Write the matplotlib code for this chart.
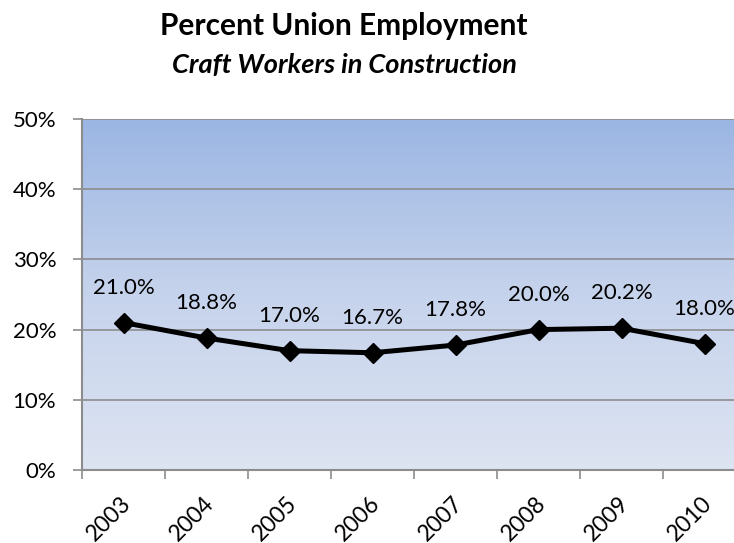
import numpy as np
import matplotlib
matplotlib.use("Agg")
import matplotlib.pyplot as plt
from matplotlib.colors import LinearSegmentedColormap
from matplotlib.transforms import ScaledTranslation

years = ["2003", "2004", "2005", "2006", "2007", "2008", "2009", "2010"]
values = [21.0, 18.8, 17.0, 16.7, 17.8, 20.0, 20.2, 18.0]
yticks = [0, 10, 20, 30, 40, 50]
title = "Percent Union Employment"
subtitle = "Craft Workers in Construction"

plt.rcParams['font.family'] = ['Lato', 'DejaVu Sans']

W, H = 734, 543
dpi = 100
fig = plt.figure(figsize=(W / dpi, H / dpi), dpi=dpi)

left, right, top, bottom = 82, 746, 119, 470
ax = fig.add_axes([left / W, 1 - bottom / H, (right - left) / W, (bottom - top) / H])

# gradient background
cmap = LinearSegmentedColormap.from_list("bg", ["#dde4f2", "#c6d3ec", "#9bb6e3"])
grad = np.linspace(0, 1, 256).reshape(-1, 1)
ax.imshow(grad, extent=[0, 1, 0, 1], transform=ax.transAxes, cmap=cmap,
          origin="lower", aspect="auto", zorder=0)

x = np.arange(len(years))
ax.plot(x, values, color="black", lw=3.6, marker="D", ms=10, mec="black", mfc="black",
        zorder=5, solid_joinstyle="round")

for xi, v in zip(x, values):
    ax.annotate(f"{v:.1f}%", (xi, v), xytext=(0, 25), textcoords="offset points",
                ha="center", va="center", fontsize=16, color="black", zorder=6)

ax.set_xlim(-0.5, len(years) - 0.5)
ax.set_ylim(0, 50)

gray = "#8c8c8c"
ax.set_yticks(yticks)
ax.set_yticklabels([f"{t}%" for t in yticks], fontsize=16)
ax.yaxis.grid(True, color=gray, lw=1.2, zorder=1)
ax.set_axisbelow(False)
for gl in ax.get_ygridlines():
    gl.set_zorder(1)

ax.set_xticks(x)
ax.set_xticklabels(years, fontsize=16.5, rotation=45, ha="right", va="top",
                   rotation_mode="anchor")
ax.set_xticks(np.arange(-0.5, len(years), 1), minor=True)
ax.tick_params(axis="x", which="major", length=0, pad=16)
ax.tick_params(axis="x", which="minor", length=6.5, width=1.2, color=gray)
ax.tick_params(axis="y", which="major", length=6.5, width=1.2, color=gray, pad=12)

offset = ScaledTranslation(-3 / dpi, 0, fig.dpi_scale_trans)
for lab in ax.get_xticklabels():
    lab.set_transform(lab.get_transform() + offset)

for s in ["top", "right"]:
    ax.spines[s].set_visible(False)
for s in ["left", "bottom"]:
    ax.spines[s].set_color(gray)
    ax.spines[s].set_linewidth(1.5)
    ax.spines[s].set_zorder(7)

fig.text(344 / W, 1 - 26 / H, title, ha="center", va="center", fontsize=21.5,
         fontweight="bold")
fig.text(344 / W, 1 - 65 / H, subtitle, ha="center", va="center", fontsize=19.5,
         fontweight="bold", fontstyle="italic")

fig.savefig("out.png", dpi=dpi)
